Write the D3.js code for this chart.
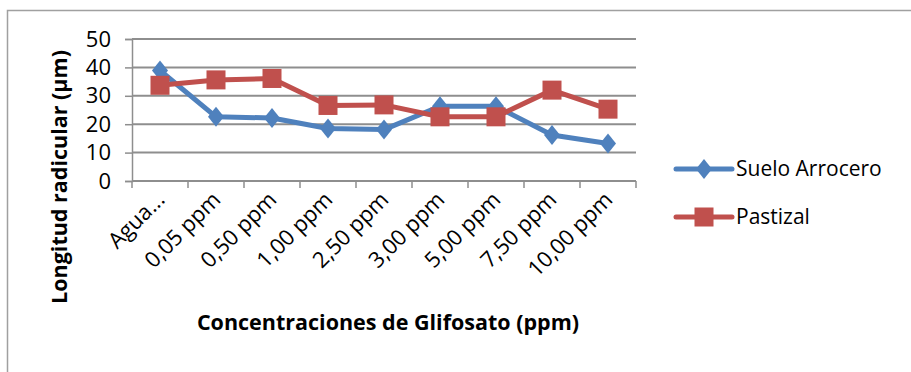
<!DOCTYPE html>
<html>
<head>
<meta charset="utf-8">
<script src="https://cdn.jsdelivr.net/npm/d3@7"></script>
<style>
  html, body { margin: 0; padding: 0; background: #fff; }
  svg { display: block; font-family: "Open Sans", "Noto Sans", sans-serif; }
</style>
</head>
<body>
<svg id="chart" width="911" height="372"></svg>
<script>
// categories + the two series
const categories = ['Agua...', '0,05 ppm', '0,50 ppm', '1,00 ppm', '2,50 ppm', '3,00 ppm', '5,00 ppm', '7,50 ppm', '10,00 ppm'];
const sueloArrocero = [38.9, 22.6, 22.2, 18.5, 18.1, 26.3, 26.3, 16.2, 13.2];
const pastizal = [33.7, 35.6, 36.1, 26.6, 26.8, 22.6, 22.6, 32.0, 25.3];
const yTicks = [0, 10, 20, 30, 40, 50];
const seriesNames = ['Suelo Arrocero', 'Pastizal'];

const svg = d3.select('#chart');
const pL = 132, pR = 636, pT = 39, pB = 181;
const grid = '#8e8e8e';
const colors = ['#4f81bd', '#c0504d'];

// outer frame (runs off the right/bottom edge like the original)
svg.append('rect').attr('x', 7.5).attr('y', 10.5).attr('width', 920).attr('height', 380)
  .attr('fill', 'none').attr('stroke', '#a0a0a0').attr('stroke-width', 1.5);

const x = d3.scaleBand().domain(categories).range([pL, pR]);
const y = d3.scaleLinear().domain([0, 50]).range([pB, pT]);

// gridlines + y ticks
const yAxis = svg.append('g').attr('transform', `translate(${pL},0)`)
  .call(d3.axisLeft(y).tickValues(yTicks).tickSize(7).tickPadding(14));
yAxis.select('.domain').attr('stroke', grid).attr('stroke-width', 1.5);
yAxis.selectAll('.tick line').attr('stroke', grid).attr('stroke-width', 1.5);
yAxis.selectAll('.tick text').attr('font-size', 22).attr('fill', '#000')
  .attr('font-family', 'Open Sans');
svg.append('g').selectAll('line').data(yTicks.filter(d => d > 0)).enter().append('line')
  .attr('x1', pL).attr('x2', pR).attr('y1', d => y(d)).attr('y2', d => y(d))
  .attr('stroke', grid).attr('stroke-width', 2);

// x axis with boundary ticks
const xAxis = svg.append('g').attr('transform', `translate(0,${pB})`);
xAxis.append('line').attr('x1', pL).attr('x2', pR).attr('stroke', grid).attr('stroke-width', 2);
const bounds = categories.map(c => x(c)).concat([pR]);
xAxis.selectAll('line.tk').data(bounds).enter().append('line').attr('class', 'tk')
  .attr('x1', d => d).attr('x2', d => d).attr('y1', 0).attr('y2', 7)
  .attr('stroke', grid).attr('stroke-width', 1.5);
xAxis.selectAll('text').data(categories).enter().append('text')
  .attr('transform', c => `translate(${x(c) + x.bandwidth() / 2 + 6},${20}) rotate(-45)`)
  .attr('text-anchor', 'end').attr('font-size', 22).text(c => c);

// series
const line = d3.line().x((d, i) => x(categories[i]) + x.bandwidth() / 2).y(d => y(d));
const series = [sueloArrocero, pastizal];
series.forEach((vals, k) => {
  svg.append('path').datum(vals).attr('d', line).attr('fill', 'none')
    .attr('stroke', colors[k]).attr('stroke-width', 5).attr('stroke-linejoin', 'round');
});
const diamond = 'M0,-10 L8,0 L0,10 L-8,0 Z';
svg.append('g').selectAll('path').data(sueloArrocero).enter().append('path')
  .attr('transform', (d, i) => `translate(${x(categories[i]) + x.bandwidth() / 2},${y(d)})`)
  .attr('d', diamond).attr('fill', colors[0]);
svg.append('g').selectAll('rect').data(pastizal).enter().append('rect')
  .attr('x', (d, i) => x(categories[i]) + x.bandwidth() / 2 - 9.5).attr('y', d => y(d) - 9.5)
  .attr('width', 19).attr('height', 19).attr('fill', colors[1]);

// legend
const leg = svg.append('g');
seriesNames.forEach((name, k) => {
  const ly = 169 + k * 48;
  leg.append('line').attr('x1', 676).attr('x2', 732).attr('y1', ly).attr('y2', ly)
    .attr('stroke', colors[k]).attr('stroke-width', 5).attr('stroke-linecap', 'round');
  if (k === 0) leg.append('path').attr('transform', `translate(704,${ly})`).attr('d', diamond).attr('fill', colors[0]);
  else leg.append('rect').attr('x', 694.5).attr('y', ly - 9.5).attr('width', 19).attr('height', 19).attr('fill', colors[1]);
  leg.append('text').attr('x', 736).attr('y', ly + 7).attr('font-size', 21).text(name);
});

// axis titles
svg.append('text').attr('transform', `translate(67,177) rotate(-90)`).attr('text-anchor', 'middle')
  .attr('font-size', 21.5).attr('font-weight', 'bold').text('Longitud radicular (µm)');
svg.append('text').attr('x', 388).attr('y', 330).attr('text-anchor', 'middle')
  .attr('font-size', 21.5).attr('font-weight', 'bold').text('Concentraciones de Glifosato (ppm)');
</script>
</body>
</html>
